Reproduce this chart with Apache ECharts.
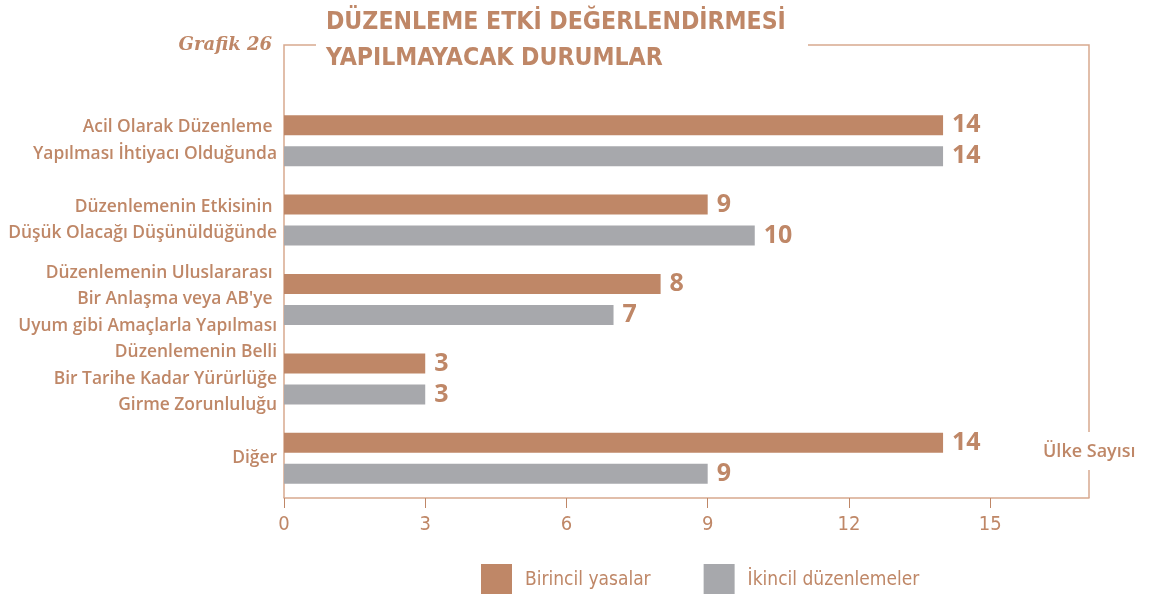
<!DOCTYPE html>
<html><head><meta charset="utf-8">
<script src="https://cdn.jsdelivr.net/npm/echarts@6/dist/echarts.min.js"></script>
<style>html,body{margin:0;padding:0;background:#fff}#c{width:1149px;height:594px}</style>
</head><body><div id="c"></div>
<script>
const categories = [
  "Acil Olarak Düzenleme \nYapılması İhtiyacı Olduğunda",
  "Düzenlemenin Etkisinin \nDüşük Olacağı Düşünüldüğünde",
  "Düzenlemenin Uluslararası \nBir Anlaşma veya AB'ye \nUyum gibi Amaçlarla Yapılması",
  "Düzenlemenin Belli\nBir Tarihe Kadar Yürürlüğe\nGirme Zorunluluğu",
  "Diğer"
];
const primaryLaws = [14, 9, 8, 3, 14];
const secondaryRegs = [14, 10, 7, 3, 9];
const seriesNames = ["Birincil yasalar", "İkincil düzenlemeler"];
const xTicks = [0, 3, 6, 9, 12, 15];

const BROWN = '#BF8767', GRAY = '#A7A8AC', LINE = '#D7A98F';
const chart = echarts.init(document.getElementById('c'));
const labelFont = '"Open Sans", sans-serif';
const condFont = '"DejaVu Sans Condensed", sans-serif';
chart.setOption({
  animation: false,
  grid: {left: 284, right: 60, top: 101, bottom: 96, containLabel: false},
  xAxis: {
    type: 'value', min: 0, max: 17.1, interval: 3,
    axisLine: {show: true, lineStyle: {color: LINE, width: 1.5}},
    axisTick: {show: true, length: 10, customValues: xTicks, lineStyle: {color: BROWN}},
    splitLine: {show: false},
    axisLabel: {customValues: xTicks, color: BROWN, fontSize: 20, fontFamily: condFont, margin: 17}
  },
  yAxis: {
    type: 'category', data: categories, inverse: true,
    axisLine: {show: false}, axisTick: {show: false},
    axisLabel: {color: BROWN, fontSize: 17.4, fontWeight: 600, fontFamily: labelFont, lineHeight: 26.5, margin: 7, align: 'right'}
  },
  legend: {
    left: 481, top: 564, padding: 0, itemWidth: 31, itemHeight: 32, itemGap: 53,
    icon: 'rect',
    textStyle: {color: BROWN, fontSize: 19, fontFamily: condFont, padding: [0,0,0,8]},
    data: seriesNames
  },
  series: [
    {name: seriesNames[0], type: 'bar', data: primaryLaws, barWidth: 20, barGap: '55%', barCategoryGap: '36%',
     itemStyle: {color: BROWN},
     label: {show: true, position: 'right', distance: 9, color: BROWN, fontSize: 25, fontWeight: 700, fontFamily: labelFont}},
    {name: seriesNames[1], type: 'bar', data: secondaryRegs, barWidth: 20,
     itemStyle: {color: GRAY},
     label: {show: true, position: 'right', distance: 9, color: BROWN, fontSize: 25, fontWeight: 700, fontFamily: labelFont}}
  ],
  graphic: [
    {type: 'polyline', shape: {points: [[316,45],[284,45],[284,498]]}, style: {stroke: LINE, lineWidth: 1.5, fill: null}},
    {type: 'polyline', shape: {points: [[808,45],[1089,45],[1089,432]]}, style: {stroke: LINE, lineWidth: 1.5, fill: null}},
    {type: 'line', shape: {x1: 1089, y1: 470, x2: 1089, y2: 498}, style: {stroke: LINE, lineWidth: 1.5}},
    {type: 'text', left: 326, top: 5, style: {text: 'DÜZENLEME ETKİ DEĞERLENDİRMESİ\nYAPILMAYACAK DURUMLAR', fill: BROWN, font: 'bold 24.6px "DejaVu Sans Condensed", sans-serif', lineHeight: 36}},
    {type: 'text', right: 1149-272, top: 36, style: {text: 'Grafik 26', fill: BROWN, font: 'italic bold 18px "DejaVu Serif", serif', textAlign: 'right'}},
    {type: 'text', left: 1043, top: 443, style: {text: 'Ülke Sayısı', fill: BROWN, font: '600 18px "Open Sans", sans-serif'}}
  ]
});
</script></body></html>
